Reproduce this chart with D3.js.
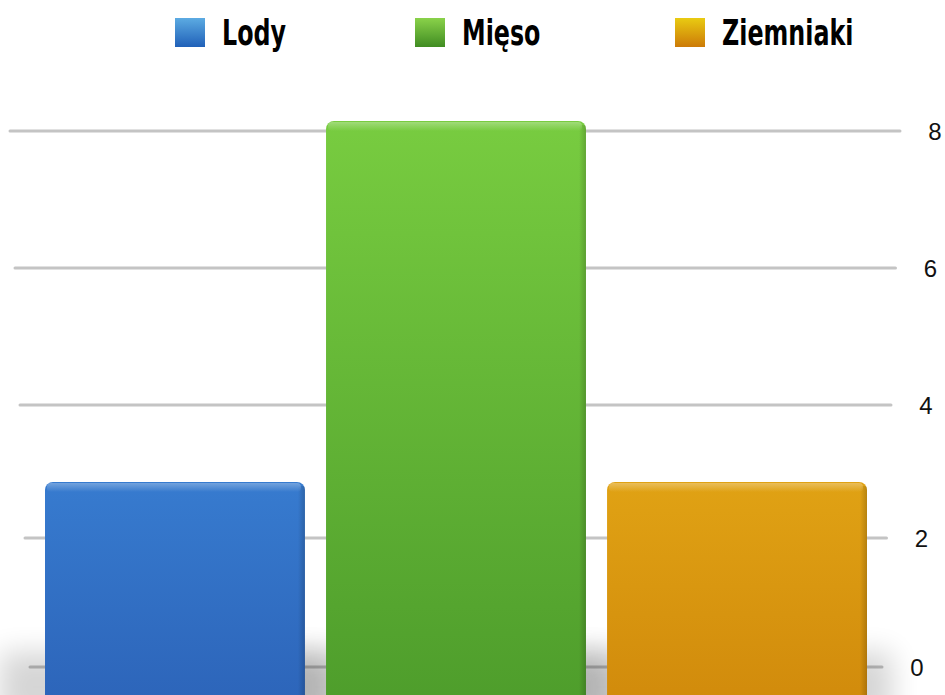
<!DOCTYPE html>
<html>
<head>
<meta charset="utf-8">
<script src="https://cdnjs.cloudflare.com/ajax/libs/d3/7.8.5/d3.min.js"></script>
<style>
  body { margin: 0; background: #fff; }
  .grid line { stroke: #c4c4c4; stroke-width: 3px; stroke-linecap: round; }
  .tick-label { font-family: "Liberation Sans", Arial, sans-serif; font-size: 24px; fill: #111; }
  .legend text { font-family: "DejaVu Sans", sans-serif; font-weight: bold; font-size: 35px; fill: #000; }
</style>
</head>
<body>
<div id="chart"></div>
<script>
var categories = ["Lody", "Mięso", "Ziemniaki"];
var values = [3, 8, 3];
var tickValues = [0, 2, 4, 6, 8];
var colorTop = ["#377bcf", "#78cc40", "#e0a214"];
var colorBottom = ["#2c63b8", "#4d9c2b", "#d0890b"];
var swatchTop = ["#5cabe2", "#8ad24a", "#e9cb12"];
var swatchBottom = ["#2060b8", "#408c22", "#cc7a08"];

var width = 945, height = 695;

var svg = d3.select("#chart").append("svg")
    .attr("width", width)
    .attr("height", height);

var defs = svg.append("defs");

// scales: bars sit on the front plane, grid on the back wall
var x = d3.scaleBand().domain(categories).range([45, 867]).paddingInner(0.075);
var yFront = d3.scaleLinear().domain([0, 8]).range([698.6, 121]);
var yBack = d3.scaleLinear().domain([0, 2, 4, 6, 8]).range([667, 538, 405, 268, 131]);
var gridLeft = d3.scaleLinear().domain([0, 8]).range([30, 10]);
var gridRight = d3.scaleLinear().domain([0, 8]).range([882, 900]);
var labelX = d3.scaleLinear().domain([0, 8]).range([917, 935]);

categories.forEach(function(c, i) {
  var g = defs.append("linearGradient").attr("id", "bar" + i)
      .attr("x1", 0).attr("y1", 0).attr("x2", 0).attr("y2", 1);
  g.append("stop").attr("offset", "0%").attr("stop-color", colorTop[i]);
  g.append("stop").attr("offset", "100%").attr("stop-color", colorBottom[i]);
  var s = defs.append("linearGradient").attr("id", "sw" + i)
      .attr("x1", 0).attr("y1", 0).attr("x2", 0).attr("y2", 1);
  s.append("stop").attr("offset", "0%").attr("stop-color", swatchTop[i]);
  s.append("stop").attr("offset", "100%").attr("stop-color", swatchBottom[i]);
});

defs.append("filter").attr("id", "blur")
    .attr("x", "-50%").attr("y", "-50%").attr("width", "200%").attr("height", "200%")
  .append("feGaussianBlur").attr("stdDeviation", 14);

var side = defs.append("linearGradient").attr("id", "side")
    .attr("x1", 0).attr("y1", 0).attr("x2", 1).attr("y2", 0);
side.append("stop").attr("offset", "0%").attr("stop-color", "#000").attr("stop-opacity", 0);
side.append("stop").attr("offset", "100%").attr("stop-color", "#000").attr("stop-opacity", 0.18);

var bevel = defs.append("linearGradient").attr("id", "bevel")
    .attr("x1", 0).attr("y1", 0).attr("x2", 0).attr("y2", 1);
bevel.append("stop").attr("offset", "0%").attr("stop-color", "#fff").attr("stop-opacity", 0.3);
bevel.append("stop").attr("offset", "100%").attr("stop-color", "#fff").attr("stop-opacity", 0);

// grid lines on back wall
var grid = svg.append("g").attr("class", "grid");
grid.selectAll("line").data(tickValues).enter().append("line")
    .attr("x1", function(d) { return gridLeft(d); })
    .attr("x2", function(d) { return gridRight(d); })
    .attr("y1", function(d) { return yBack(d); })
    .attr("y2", function(d) { return yBack(d); });

svg.append("g").selectAll("text").data(tickValues).enter().append("text")
    .attr("class", "tick-label")
    .attr("x", function(d) { return labelX(d); })
    .attr("y", function(d) { return yBack(d) + 9; })
    .attr("text-anchor", "middle")
    .text(function(d) { return d; });

// floor shadows (cast to the left)
svg.append("g").selectAll("rect").data(categories).enter().append("rect")
    .attr("x", function(d) { return x(d) - 45; })
    .attr("y", yBack(0) - 15)
    .attr("width", x.bandwidth() + 70)
    .attr("height", 70)
    .attr("fill", "#000")
    .attr("opacity", 0.16)
    .attr("filter", "url(#blur)");

// bars
var bars = svg.append("g").selectAll("g").data(categories).enter().append("g");

bars.append("rect")
    .attr("x", function(d) { return x(d); })
    .attr("y", function(d, i) { return yFront(values[i]); })
    .attr("width", x.bandwidth())
    .attr("height", function(d, i) { return yFront(0) - yFront(values[i]) + 20; })
    .attr("rx", 8)
    .attr("fill", function(d, i) { return "url(#bar" + i + ")"; });

bars.append("rect")
    .attr("x", function(d) { return x(d) + x.bandwidth() - 7; })
    .attr("y", function(d, i) { return yFront(values[i]) + 4; })
    .attr("width", 7)
    .attr("height", function(d, i) { return yFront(0) - yFront(values[i]) + 20; })
    .attr("rx", 3)
    .attr("fill", "url(#side)");

bars.append("rect")
    .attr("x", function(d) { return x(d) + 2; })
    .attr("y", function(d, i) { return yFront(values[i]) + 1; })
    .attr("width", x.bandwidth() - 6)
    .attr("height", 9)
    .attr("rx", 4)
    .attr("fill", "url(#bevel)");

// legend
var legendX = [175, 415, 675];
var legend = svg.append("g").attr("class", "legend");
var item = legend.selectAll("g").data(categories).enter().append("g")
    .attr("transform", function(d, i) { return "translate(" + legendX[i] + ",18)"; });
item.append("rect")
    .attr("width", 30).attr("height", 29)
    .attr("fill", function(d, i) { return "url(#sw" + i + ")"; });
item.append("text")
    .attr("transform", "translate(47,27) scale(0.68,1)")
    .text(function(d) { return d; });
</script>
</body>
</html>
